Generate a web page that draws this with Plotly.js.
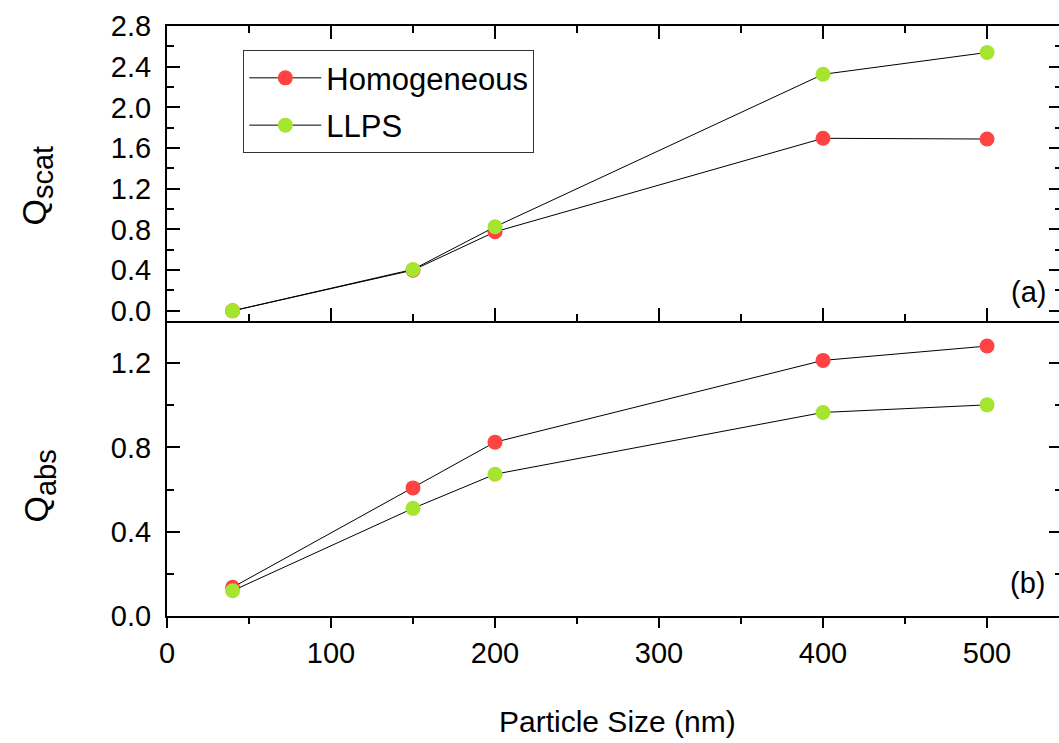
<!DOCTYPE html>
<html>
<head>
<meta charset="utf-8">
<script src="https://cdn.plot.ly/plotly-3.0.1.min.js"></script>
<style>
html,body{margin:0;padding:0;overflow:hidden;background:#fff;width:1059px;height:743px;}
#chart{width:1064px;height:743px;}
</style>
</head>
<body>
<div id="chart"></div>
<script>
// ---- data ----
const particleSize = [40, 150, 200, 400, 500];
const qscatHomogeneous = [0.00, 0.40, 0.777, 1.696, 1.689];
const qscatLLPS = [0.00, 0.407, 0.826, 2.325, 2.54];
const qabsHomogeneous = [0.136, 0.608, 0.825, 1.213, 1.281];
const qabsLLPS = [0.12, 0.511, 0.673, 0.966, 1.002];
const seriesNames = ['Homogeneous', 'LLPS'];
const seriesColors = ['#FF4242', '#A6E52F'];

const FONT = 'Liberation Sans, Arial, Helvetica, sans-serif';

function mk(x, y, i, xa, ya, showleg) {
  return {
    x: x, y: y, type: 'scatter', mode: 'lines+markers',
    name: seriesNames[i], legendgroup: 'g' + i, showlegend: showleg,
    xaxis: xa, yaxis: ya,
    line: {color: '#000', width: 1},
    marker: {color: seriesColors[i], size: 15, line: {width: 0}}
  };
}

const traces = [
  mk(particleSize, qscatHomogeneous, 0, 'x2', 'y2', true),
  mk(particleSize, qscatLLPS, 1, 'x2', 'y2', true),
  mk(particleSize, qabsHomogeneous, 0, 'x', 'y', false),
  mk(particleSize, qabsLLPS, 1, 'x', 'y', false)
];

const tickFont = {family: FONT, size: 29, color: '#000'};
const xr = [0, 545.7];

const layout = {
  width: 1064, height: 743,
  margin: {l: 167, r: 2, t: 26, b: 127},
  paper_bgcolor: '#fff', plot_bgcolor: '#fff',
  font: {family: FONT, color: '#000'},
  showlegend: true,
  legend: {
    x: 0.0853, y: 0.959, xanchor: 'left', yanchor: 'top',
    bgcolor: '#fff', bordercolor: '#333', borderwidth: 1,
    font: {family: FONT, size: 31, color: '#000'},
    tracegroupgap: 4, itemwidth: 72
  },
  xaxis: {
    domain: [0, 1], anchor: 'y', range: xr,
    showline: true, linewidth: 2, linecolor: '#000',
    ticks: 'outside', ticklen: 10, tickwidth: 2, tickcolor: '#000',
    dtick: 100, tick0: 0, showgrid: false, zeroline: false,
    tickfont: tickFont,
    minor: {ticks: 'outside', ticklen: 6, tickwidth: 2, tickcolor: '#000', dtick: 50, showgrid: false}
  },
  xaxis2: {
    domain: [0, 1], anchor: 'y2', range: xr, matches: 'x',
    showline: true, linewidth: 2, linecolor: '#000', mirror: 'ticks',
    ticks: 'inside', ticklen: 13, tickwidth: 2, tickcolor: '#000',
    dtick: 100, tick0: 0, showgrid: false, zeroline: false, showticklabels: false,
    minor: {ticks: 'inside', ticklen: 7, tickwidth: 2, tickcolor: '#000', dtick: 50, showgrid: false}
  },
  yaxis: {
    domain: [0, 0.5], anchor: 'x', range: [0, 1.4],
    showline: true, linewidth: 2, linecolor: '#000', mirror: 'ticks',
    ticks: 'inside', ticklen: 13, tickwidth: 2, tickcolor: '#000',
    tickvals: [0, 0.4, 0.8, 1.2], ticktext: ['0.0', '0.4', '0.8', '1.2'],
    showgrid: false, zeroline: false, tickfont: tickFont, ticklabelstandoff: 8,
    minor: {ticks: 'inside', ticklen: 7, tickwidth: 2, tickcolor: '#000', tickvals: [0.2, 0.6, 1.0], showgrid: false}
  },
  yaxis2: {
    domain: [0.5, 1], anchor: 'x2', range: [-0.1, 2.8],
    showline: true, linewidth: 2, linecolor: '#000', mirror: 'ticks',
    ticks: 'inside', ticklen: 13, tickwidth: 2, tickcolor: '#000',
    dtick: 0.4, tick0: 0, tickformat: '.1f',
    showgrid: false, zeroline: false, tickfont: tickFont, ticklabelstandoff: 8,
    minor: {ticks: 'inside', ticklen: 7, tickwidth: 2, tickcolor: '#000', dtick: 0.2, showgrid: false}
  },
  annotations: [
    {text: 'Q<sub><span style="font-size:29px">scat</span></sub>', xref: 'paper', yref: 'paper', x: -0.1458, y: 0.7288,
     xanchor: 'center', yanchor: 'middle', textangle: -90, showarrow: false,
     font: {family: FONT, size: 34, color: '#000'}},
    {text: 'Q<sub><span style="font-size:29px">abs</span></sub>', xref: 'paper', yref: 'paper', x: -0.1425, y: 0.2203,
     xanchor: 'center', yanchor: 'middle', textangle: -90, showarrow: false,
     font: {family: FONT, size: 34, color: '#000'}},
    {text: '(a)', xref: 'paper', yref: 'paper', x: 0.9844, y: 0.5497,
     xanchor: 'right', yanchor: 'middle', showarrow: false,
     font: {family: FONT, size: 29, color: '#000'}},
    {text: '(b)', xref: 'paper', yref: 'paper', x: 0.9833, y: 0.0559,
     xanchor: 'right', yanchor: 'middle', showarrow: false,
     font: {family: FONT, size: 29, color: '#000'}},
    {text: 'Particle Size (nm)', xref: 'paper', yref: 'paper', x: 0.503, y: -0.178,
     xanchor: 'center', yanchor: 'middle', showarrow: false,
     font: {family: FONT, size: 30, color: '#000'}}
  ]
};

Plotly.newPlot('chart', traces, layout, {displayModeBar: false, staticPlot: true});
</script>
</body>
</html>
